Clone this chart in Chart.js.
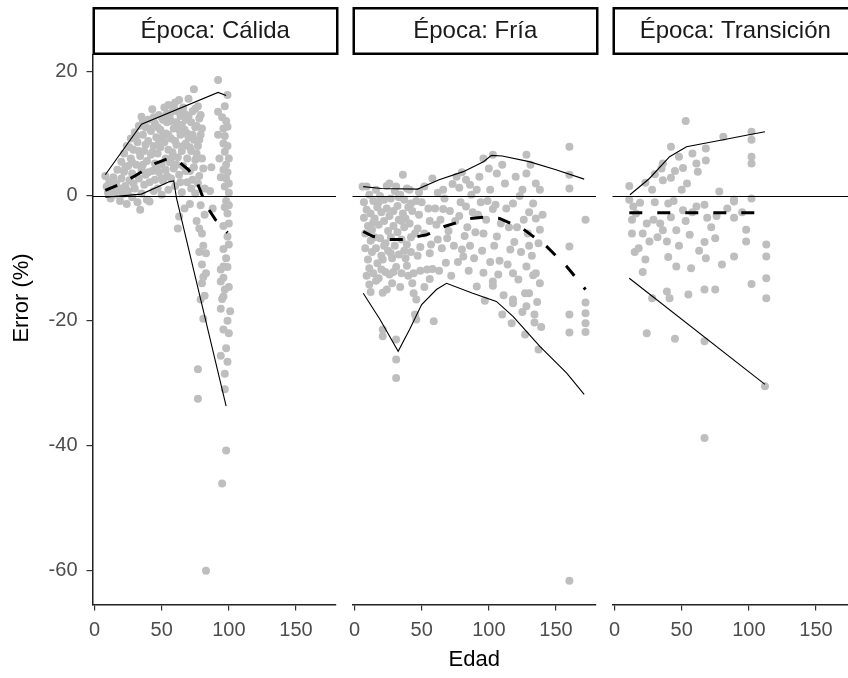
<!DOCTYPE html>
<html>
<head>
<meta charset="utf-8">
<script src="https://cdn.jsdelivr.net/npm/chart.js@4.4.0/dist/chart.umd.min.js"></script>
<style>
  html, body { margin: 0; padding: 0; background: #fff; overflow: hidden; }
  body { width: 848px; height: 678px; position: relative; }
  canvas { position: absolute; top: 0; }
</style>
</head>
<body>
<canvas id="c1" width="340" height="678" style="left:0px"></canvas>
<canvas id="c2" width="260" height="678" style="left:340px"></canvas>
<canvas id="c3" width="260" height="678" style="left:600px"></canvas>
<script>
// tick labels, titles and facet names
const xTicks = [0, 50, 100, 150];
const yTicks = [-60, -40, -20, 0, 20];
const facets = ['Época: Cálida', 'Época: Fría', 'Época: Transición'];
const xTitle = 'Edad';
const yTitle = 'Error (%)';

// Época: Cálida  [edad, error]
const calidaPts = [
  [8,3.2],[9,1.5],[10,0.5],[11,2.2],[12,-0.4],[13,1.0],[14,3.0],[15,0.2],[16,2.0],
  [17,4.2],[18,1.0],[19,-0.8],[20,5.5],[20,2.8],[20,1.2],[21,0.3],[22,6.8],[22,3.9],[23,1.6],[23,4.6],[24,-1.3],[24,8.0],[25,4.8],[25,0.8],
  [26,2.5],[26,7.8],[27,9.2],[27,6.0],[28,-0.2],[28,3.6],[28,5.4],[29,7.4],[29,2.0],[30,10.2],[30,1.2],[31,5.0],[31,9.6],[32,-1.0],[32,8.6],
  [33,2.8],[33,11.2],[33,7.2],[34,6.4],[34,-2.2],[35,12.7],[35,4.2],[35,0.4],
  [36,9.8],[36,5.0],[36,12.0],[37,7.2],[37,1.8],[38,11.0],[38,3.4],[38,8.2],[39,5.6],[39,-0.6],[40,8.8],[40,12.2],[40,3.8],[41,2.2],[41,-0.9],[41,10.8],
  [42,6.6],[42,10.4],[43,4.0],[43,13.9],[43,7.0],[44,0.8],[44,8.0],[44,12.6],[45,11.6],[45,5.2],[45,2.6],
  [46,9.4],[46,4.6],[47,6.8],[47,1.2],[47,11.0],[48,13.0],[48,3.8],[48,8.8],[49,10.6],[49,7.8],[50,5.0],[50,0.2],[50,12.6],[50,2.8],
  [51,12.2],[51,2.4],[51,9.6],[52,8.6],[52,14.2],[53,6.0],[53,10.0],[53,4.2],[54,3.2],[54,11.8],[54,13.2],[55,7.4],[55,14.6],[55,1.0],[55,9.8],
  [56,12.8],[56,5.4],[57,9.2],[57,2.8],[57,6.0],[57,12.0],[58,13.6],[58,7.0],[59,10.8],[59,4.4],[59,14.2],[60,15.0],[60,1.6],[60,8.8],
  [61,8.2],[61,11.8],[61,5.0],[62,6.2],[62,-5.2],[62,13.6],[63,15.4],[63,3.4],[63,-3.3],[63,10.6],[64,9.8],[64,12.8],[64,2.2],[65,7.2],[65,0.6],[65,11.4],
  [66,14.2],[66,4.8],[66,8.0],[67,10.6],[67,-2.0],[67,13.2],[68,8.4],[68,12.2],[68,4.0],[69,2.2],[69,6.0],[69,10.0],[70,15.6],[70,9.4],[70,12.8],
  [71,-1.3],[71,4.0],[71,7.8],[72,11.8],[72,7.2],[72,1.2],[73,13.6],[73,2.6],[73,9.8],[74,17.1],[74,9.0],[74,4.6],[75,0.4],[75,5.8],[75,14.0],[75,11.0],
  [76,11.2],[76,-4.0],[76,6.8],[77,8.0],[77,14.4],[77,2.0],[78,12.4],[78,3.2],[78,-5.2],[78,9.0],[78,-9.0],[79,9.8],[79,-16.6],[79,13.0],[79,-1.5],
  [80,6.0],[80,-6.0],[80,-14.0],[80,10.8],[80,-11.0],[81,4.4],[81,-13.0],[82,-16.0],
  [77,-27.8],[77,-32.5],[81,-19.7],[81,-8.0],[83,-9.2],[83,-12.4],[83,-60.1],[82,-3.0],[82,1.2],[86,0.8],[88,-2.0],[87,4.6],
  [92,18.6],[99,16.2],[92,13.5],[95,12.6],[96,10.8],[99,11.1],[92,9.8],[96,8.4],[97,7.1],[98,5.0],[99,3.8],[97,1.5],[98,2.8],[98,-0.8],
  [97,14.4],[98,12.0],[97,9.6],[99,8.0],[100,6.0],[96,4.2],[100,2.0],[97,-1.8],[96,-4.8],[100,-7.8],[98,-10.0],
  [99,-2.8],[100,-4.4],[99,-6.5],[96,-8.5],[96,-11.3],[94,-11.8],[99,-11.4],[96,-13.1],[94,-13.7],[95,-16.5],[96,-16.1],[94,-18.1],
  [100,-14.6],[97,-15.0],[100,-22.0],[96,-21.4],[99,-26.6],[97,-31.0],
  [101,-18.5],[99,-20.0],[98,-24.4],[94,-25.6],[97,-28.5],[98,-40.8],[95,-46.1],[100,-1.5],[100,0.5],[93,6.0],[94,3.0]
];
const calidaUpper = [[8,3.4],[35,11.5],[92,16.6],[98,16.1]];
const calidaMean = [[8,0.9],[20,2.0],[30,3.2],[45,5.2],[55,6.0],[62,5.6],[70,4.2],[76,2.4],[83,-1.5],[90,-3.8],[99,-5.9]];
const calidaLower = [[8,-0.2],[35,0.3],[56,2.3],[59,2.4],[61,-0.3],[98,-33.7]];

// Época: Fría
const friaPts = [
  [6,1.5],[7,-1.0],[7,-3.5],[8,-6.0],[8,-8.4],[9,1.5],[9,-2.2],[9,-12.8],[10,-4.8],[10,-10.2],[11,-11.6],[11,-14.2],[11,0.2],[12,-7.2],[12,-2.8],[12,-15.4],
  [13,-5.4],[13,-9.0],[14,-0.8],[14,-12.4],[14,-4.2],[15,-3.6],[15,-6.6],[16,1.0],[16,-8.4],[16,-13.6],[17,-1.8],[17,-10.8],[18,-4.6],[18,-13.2],[18,-1.0],
  [19,0.0],[19,-6.8],[20,-2.6],[20,-9.6],[20,-11.8],[21,-10.2],[21,-15.5],[21,-21.4],[21,-22.5],[22,-4.0],[22,-0.6],[22,-8.0],[23,-7.6],[23,-12.2],
  [24,1.6],[24,-2.0],[24,-15.0],[25,-5.6],[25,-8.8],
  [26,2.0],[26,-12.6],[26,-3.2],[27,-0.4],[27,-6.6],[27,-9.2],[28,-10.0],[28,-14.0],[29,-2.4],[29,-4.8],[29,-12.2],[30,-8.0],[30,0.8],[31,1.5],[31,-23.0],[31,-26.2],
  [31,-29.2],[31,-11.4],[32,-5.8],[32,-1.6],[33,-3.8],[33,-9.4],[33,-0.2],[34,-14.6],[34,0.2],[35,-7.0],[35,-12.4],[35,-4.0],[36,3.4],[36,-2.8],[37,-5.0],[37,-0.6],[37,-8.8],
  [38,-10.0],[38,-3.6],[39,-7.8],[39,1.2],[39,-11.2],[40,-1.8],[40,-12.8],[41,1.0],[41,-4.4],[42,-6.6],[42,-9.0],[42,-1.2],[43,-2.4],[43,-14.0],[44,-12.4],[44,-15.6],[45,-19.0],[45,-6.0],
  [46,-16.6],[46,-19.8],[46,-0.8],[47,-5.2],[47,-9.6],[48,-3.0],[48,0.6],[49,-8.2],[49,-12.0],[50,-1.0],[52,-6.0],[52,1.5],[52,-14.6],[54,-11.8],[55,-2.0],[56,-9.2],[56,-13.3],
  [57,-7.8],[58,-11.7],[59,-20.1],[56,-4.0],[58,2.8],[60,-2.0],[61,-4.6],[62,-7.0],[62,0.5],[63,-12.0],[64,-3.8],[65,-8.4],[66,1.0],[66,-2.1],[67,-0.4],[68,-10.7],
  [69,-6.8],[70,-5.6],[71,-2.4],[72,-12.8],[73,1.9],[74,-8.0],[75,-4.0],[76,3.1],[77,-10.6],
  [78,1.3],[78,-3.2],[79,-1.0],[80,3.8],[80,-8.6],[81,-9.7],[82,-6.4],[83,2.6],[83,-1.7],[84,-5.0],[85,-12.0],[86,1.8],[86,-8.0],[87,0.2],[88,-2.6],[89,-10.0],
  [90,-5.8],[91,1.0],[91,-14.5],[92,-3.0],[95,-8.8],[97,-16.8],[99,-0.8],
  [93,3.1],[94,-1.0],[96,6.0],[96,-6.0],[96,-12.3],[98,-3.8],[100,4.4],[101,1.0],[101,-10.6],[103,6.6],[103,-2.1],[103,-13.7],[103,-14.4],[104,-8.0],
  [105,-1.4],[106,3.6],[106,-6.5],[107,-12.6],[108,-10.4],[109,-4.4],[110,5.0],[110,-19.0],[111,-15.9],[112,2.0],[113,-2.0],[114,-11.0],[115,-5.0],[116,-8.6],
  [117,-20.4],[118,-1.2],[118,-12.4],[118,-16.6],[118,-17.2],[119,-7.4],[120,3.1],
  [121,-5.0],[122,-13.4],[123,0.0],[124,-9.0],[125,1.0],[125,-18.6],[126,-3.8],[127,-15.6],[127,-22.2],[128,6.6],[128,3.6],[128,-11.3],[128,-17.7],
  [129,-6.0],[130,-2.6],[130,-8.0],[130,-15.6],[132,-9.6],[133,-1.2],[136,-17.0],[137,-7.6],[140,-3.0],[139,-21.0],
  [131,5.0],[133,-12.7],[134,-19.0],[134,-20.3],[135,2.0],[135,-3.6],[135,-12.4],[137,-24.6],[138,1.0],[138,-5.4],[138,-14.0],
  [160,7.9],[160,3.4],[160,1.2],[160,-8.1],[160,-19.0],[160,-21.9],[160,-61.7],[172,-3.8],[172,-17.1],[172,-18.8],[172,-20.4],[172,-21.8]
];
const friaUpper = [[6.5,1.5],[20,1.2],[47,1.1],[63,2.6],[81,3.9],[96,5.5],[102,6.5],[110,6.4],[130,5.5],[150,4.2],[171,2.7]];
const friaMean = [[6.5,-5.7],[14,-6.5],[26,-7.0],[36,-7.0],[54,-6.2],[67,-4.9],[86,-3.6],[96,-3.4],[108,-3.6],[125,-5.2],[143,-8.1],[158,-11.3],[172,-15.0]];
const friaLower = [[6.5,-15.6],[19,-19.8],[32.5,-24.9],[41,-21.4],[50,-17.4],[61,-15.0],[68.5,-14.0],[88,-15.6],[105.6,-16.9],[118,-19.3],[138,-24.1],[158,-28.4],[171,-31.8]];

// Época: Transición
const transPts = [
  [11,1.6],[11,-0.6],[14,-1.7],[19,-1.1],[13,-3.8],[13,-6.0],[24,-4.4],[26,-7.3],[21,-6.0],[29,-3.8],[40,-1.2],[42,-3.4],[34,-4.4],[36,-5.5],
  [46,-5.5],[39,-7.3],[51,-2.3],[61,-1.7],[67,-1.4],[56,-6.2],[69,-3.5],[76,-3.2],[89,-0.9],[89,-3.5],[98,-5.4],[98,-7.3],[113,-7.8],[113,-9.7],
  [113,-13.2],[113,-16.4],[102,-14.1],[89,-9.7],[75,-6.8],[67,-7.4],[68,-10.0],[57,-11.6],[46,-11.3],[40,-9.8],[23,-10.2],[21,-12.2],[39,-15.3],
  [41,-16.4],[55,-15.8],[67,-15.0],[75,-15.0],[28,-16.4],[24,-22.0],[45,-22.9],[67,-23.3],[112,-30.5],[67,-38.8],[53,12.0],[42,7.9],[68,7.6],
  [81,9.5],[102,10.3],[102,9.0],[102,6.3],[102,5.2],[58,6.8],[61,5.2],[68,5.7],[36,5.2],[48,6.3],[51,4.5],[54,2.0],[35,4.4],[36,2.5],[23,2.1],
  [78,0.7],[89,-0.6],[102,-0.4],[62,3.9],[42,2.9],[16,-2.8],[18,-8.4],[15,-9.0],[30,-1.0],[32,-6.6],[44,-0.8],[48,-8.0],[53,-4.0],[58,-2.6],
  [63,-8.8],[72,-5.0],[80,-11.0],[84,-2.0],[95,-2.6],[30,3.5],[45,4.0],[28,1.0],[50,1.0]
];
const transUpper = [[11.5,0.2],[26,2.8],[41,6.3],[53.6,7.9],[81,9.0],[102,9.9],[112,10.3]];
const transMean = [[11,-2.7],[40,-2.7],[75,-2.7],[109,-2.7]];
const transLower = [[11,-13.2],[112,-30.2]];

const FONT = "'Liberation Sans', Arial, sans-serif";
const toXY = arr => arr.map(p => ({ x: p[0], y: p[1] }));

// facet strip above each panel (+ y title on the first one)
const stripPlugin = {
  id: 'strip',
  afterDraw(chart, args, opts) {
    const { ctx, chartArea: a } = chart;
    ctx.save();
    ctx.lineWidth = 2.5;
    ctx.strokeStyle = '#000';
    ctx.strokeRect(a.left + 1.25, 8.25, a.right - a.left, 45.5);
    ctx.fillStyle = '#1a1a1a';
    ctx.font = '24px ' + FONT;
    ctx.textAlign = 'center';
    ctx.textBaseline = 'middle';
    ctx.fillText(opts.text, (a.left + a.right) / 2 + 1, 31);
    if (opts.yTitle) {
      ctx.translate(22, 298);
      ctx.rotate(-Math.PI / 2);
      ctx.fillStyle = '#000';
      ctx.font = '22px ' + FONT;
      ctx.fillText(opts.yTitle, 0, 0);
    }
    ctx.restore();
  }
};

// horizontal reference at 0
const zeroLine = {
  id: 'zeroLine',
  afterDatasetsDraw(chart) {
    const { ctx, chartArea: a, scales: { y } } = chart;
    const py = Math.round(y.getPixelForValue(0)) + 0.5;
    ctx.save();
    ctx.strokeStyle = '#000';
    ctx.lineWidth = 1.2;
    ctx.beginPath();
    ctx.moveTo(a.left, py);
    ctx.lineTo(a.right, py);
    ctx.stroke();
    ctx.restore();
  }
};

function makePanel(id, idx, pts, upper, mean, lower) {
  const first = idx === 0;
  const thin = { type: 'line', borderColor: '#000', borderWidth: 1.1, pointRadius: 0, tension: 0, fill: false };
  new Chart(document.getElementById(id), {
    type: 'scatter',
    data: {
      datasets: [
        Object.assign({ data: toXY(upper) }, thin),
        Object.assign({ data: toXY(lower) }, thin),
        { type: 'line', data: toXY(mean), borderColor: '#000', borderWidth: 3, borderDash: [13, 15],
          borderCapStyle: 'butt', pointRadius: 0, tension: 0, fill: false },
        { data: toXY(pts), backgroundColor: '#bebebe', borderWidth: 0, pointRadius: 4 }
      ]
    },
    options: {
      responsive: false,
      animation: false,
      devicePixelRatio: 1,
      layout: { padding: { top: 55, right: 3.5, left: first ? 0 : 12.5, bottom: 0 } },
      plugins: {
        legend: { display: false },
        tooltip: { enabled: false },
        strip: { text: facets[idx], yTitle: first ? yTitle : null }
      },
      scales: {
        x: {
          type: 'linear', min: -1.5, max: 179.8,
          afterBuildTicks: s => { s.ticks = xTicks.map(v => ({ value: v })); },
          afterFit: s => { s.height = 73.5; },
          border: { display: true, color: '#222', width: 1.5 },
          grid: { display: true, drawOnChartArea: false, drawTicks: true, tickLength: 6, color: '#333', lineWidth: 1.2 },
          ticks: { color: '#4d4d4d', font: { family: FONT, size: 20 }, padding: 8, maxRotation: 0 },
          title: { display: idx === 1, text: xTitle, color: '#000', font: { family: FONT, size: 22 }, padding: { top: 0, bottom: 5 } }
        },
        y: {
          type: 'linear', min: -65.5, max: 22.6, display: first,
          afterBuildTicks: s => { s.ticks = yTicks.map(v => ({ value: v })); },
          afterFit: s => { s.width = first ? 92.5 : 0; },
          border: { display: true, color: '#222', width: 1.5 },
          grid: { display: true, drawOnChartArea: false, drawTicks: true, tickLength: 6, color: '#333', lineWidth: 1.2 },
          ticks: { color: '#4d4d4d', font: { family: FONT, size: 20 }, padding: 9 }
        }
      }
    },
    plugins: [stripPlugin, zeroLine]
  });
}

makePanel('c1', 0, calidaPts, calidaUpper, calidaMean, calidaLower);
makePanel('c2', 1, friaPts, friaUpper, friaMean, friaLower);
makePanel('c3', 2, transPts, transUpper, transMean, transLower);
</script>
</body>
</html>
